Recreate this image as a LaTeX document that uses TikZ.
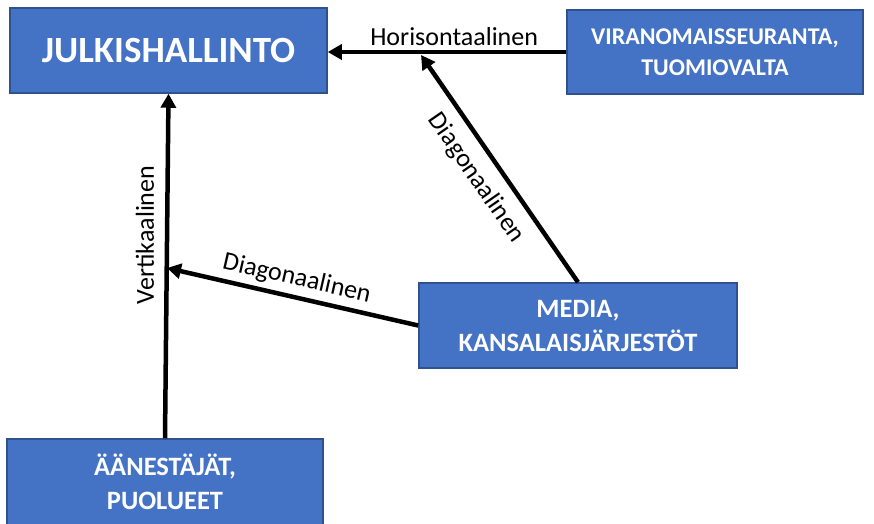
\documentclass[tikz,border=0pt]{standalone}
\usepackage{fontspec}
\setmainfont{Carlito}
\usetikzlibrary{arrows.meta}
\definecolor{boxfill}{HTML}{4472C4}
\definecolor{boxline}{HTML}{2F528F}

\begin{document}
\begin{tikzpicture}[x=1pt,y=-1pt,
    box/.style={draw=boxline, line width=1.5pt, fill=boxfill, text=white,
      font=\bfseries\fontsize{26.5}{34}\selectfont, align=center,
      inner sep=0pt},
    link/.style={line width=4.5pt, -{Triangle[length=14pt,width=15pt]}},
    lbl/.style={font=\fontsize{26}{28}\selectfont, text=black, inner sep=2pt}]
  % frame
  \useasboundingbox (0,0) rectangle (874,523);

  % boxes
  \node[box, minimum width=317pt, minimum height=85pt,
        font=\bfseries\fontsize{37}{40}\selectfont] (julki) at (168.5,50.5) {JULKISHALLINTO};
  \node[box, minimum width=296pt, minimum height=84pt,
        font=\bfseries\fontsize{24}{31}\selectfont] (viran) at (715,52) {VIRANOMAISSEURANTA,\\TUOMIOVALTA};
  \node[box, minimum width=318pt, minimum height=85pt] (media) at (578,325.5) {MEDIA,\\KANSALAISJÄRJESTÖT};
  \node[box, minimum width=316pt, minimum height=86pt] (aanest) at (165,482) {ÄÄNESTÄJÄT,\\PUOLUEET};

  % arrow end points
  \coordinate (vmid) at (167,268);
  \coordinate (hmid) at (421,55);

  % horisontal
  \draw[link] (viran.west) -- (viran.west -| julki.east)
    node[lbl, pos=0.47, above=2pt] {Horisontaalinen};
  % vertical
  \draw[link] (aanest.north) -- (julki.south);
  \node[lbl, rotate=90] (vlabel) at (145,235) {Vertikaalinen};
  % diagonals
  \draw[link] (media.west) -- (vmid)
    node[lbl, midway, sloped, above=3pt] {Diagonaalinen};
  \draw[link] (media.north) -- (hmid)
    node[lbl, pos=0.52, sloped, below=9pt] {Diagonaalinen};
\end{tikzpicture}
\end{document}
